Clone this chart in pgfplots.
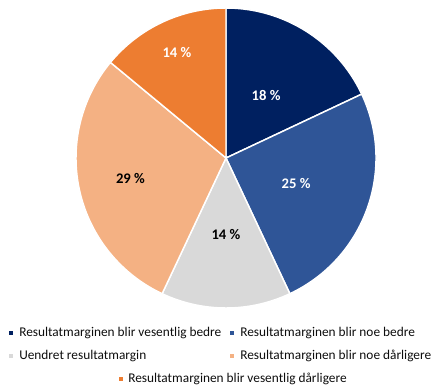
\documentclass[border=0pt]{standalone}
\usepackage{pgfplots}
\pgfplotsset{compat=1.18}
\usepackage{fontspec}
\setmainfont{Carlito}
\definecolor{cA}{HTML}{002060}
\definecolor{cB}{HTML}{2F5597}
\definecolor{cC}{HTML}{D9D9D9}
\definecolor{cD}{HTML}{F4B183}
\definecolor{cE}{HTML}{ED7D31}
\definecolor{legtxt}{HTML}{0D0D0D}
\begin{document}
\begin{tikzpicture}
\begin{axis}[at={(0pt,0pt)},anchor=center,width=225pt,height=225pt,scale only axis,
  hide axis,xmin=-1,xmax=1,ymin=-1,ymax=1,clip=false]
% values: 18, 25, 14, 29, 14 (percent), clockwise from 12 o'clock
\fill[cA,draw=white,line width=1.1pt] (axis cs:0,0) -- (axis cs:0,1) arc[start angle=90,delta angle=-64.8,radius=112.5pt] -- cycle;
\fill[cB,draw=white,line width=1.1pt] (axis cs:0,0) -- (axis cs:{cos(25.2)},{sin(25.2)}) arc[start angle=25.2,delta angle=-90,radius=112.5pt] -- cycle;
\fill[cC,draw=white,line width=1.1pt] (axis cs:0,0) -- (axis cs:{cos(-64.8)},{sin(-64.8)}) arc[start angle=-64.8,delta angle=-50.4,radius=112.5pt] -- cycle;
\fill[cD,draw=white,line width=1.1pt] (axis cs:0,0) -- (axis cs:{cos(-115.2)},{sin(-115.2)}) arc[start angle=-115.2,delta angle=-104.4,radius=112.5pt] -- cycle;
\fill[cE,draw=white,line width=1.1pt] (axis cs:0,0) -- (axis cs:{cos(-219.6)},{sin(-219.6)}) arc[start angle=-219.6,delta angle=-50.4,radius=112.5pt] -- cycle;
\tikzset{lab/.style={font=\fontsize{11}{13}\selectfont\bfseries}}
\node[lab,text=white] at (axis cs:0.267,0.415) {18 \%};
\node[lab,text=white] at (axis cs:0.467,-0.173) {25 \%};
\node[lab,text=black] at (axis cs:0,-0.51) {14 \%};
\node[lab,text=black] at (axis cs:-0.637,-0.14) {29 \%};
\node[lab,text=white] at (axis cs:-0.327,0.7) {14 \%};
\end{axis}
\begin{scope}[x=0.75pt,y=-0.75pt,shift={(-226,-158)}]
\path[use as bounding box] (0,0) rectangle (440,390);
\tikzset{leg/.style={anchor=west,inner sep=0pt,font=\fontsize{10}{12}\selectfont,text=legtxt}}
\fill[cA] (9,331) rectangle (13,335);
\node[leg] at (19,333) {Resultatmarginen blir vesentlig bedre};
\fill[cB] (230,331) rectangle (234,335);
\node[leg] at (240,333) {Resultatmarginen blir noe bedre};
\fill[cC] (9,354) rectangle (13,358);
\node[leg] at (19,356) {Uendret resultatmargin};
\fill[cD] (230,354) rectangle (234,358);
\node[leg] at (240,356) {Resultatmarginen blir noe dårligere};
\fill[cE] (119,377) rectangle (123,381);
\node[leg] at (128,379) {Resultatmarginen blir vesentlig dårligere};
\end{scope}
\end{tikzpicture}
\end{document}
